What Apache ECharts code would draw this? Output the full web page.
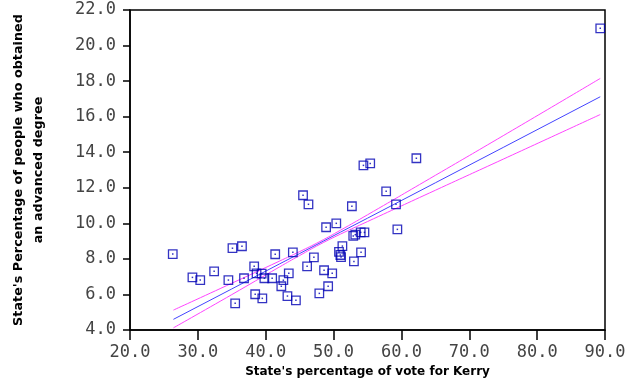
<!DOCTYPE html>
<html>
<head>
<meta charset="utf-8">
<script src="https://cdn.jsdelivr.net/npm/echarts@6/dist/echarts.min.js"></script>
<style>html,body{margin:0;padding:0;background:#fff}#c{width:640px;height:384px}</style>
</head>
<body>
<div id="c"></div>
<script>
// State's percentage of vote for Kerry (x) vs percentage with advanced degree (y)
var kerryVote = [26.3,29.2,30.35,32.4,34.5,35.1,35.5,36.5,36.8,38.3,38.45,38.65,39.4,39.5,39.8,40.95,41.4,42.3,42.6,43.2,43.4,44.0,44.45,45.5,46.3,46.1,47.1,47.9,48.6,48.9,49.2,49.8,50.4,50.8,51.0,51.1,51.3,52.7,52.9,53.2,53.0,54.05,54.0,54.55,54.4,55.4,57.75,59.2,59.4,62.2,89.3];
var advDegree = [8.27,6.96,6.81,7.30,6.81,8.60,5.50,8.71,6.91,7.58,6.01,7.19,7.17,5.78,6.91,6.91,8.26,6.46,6.80,5.91,7.19,8.37,5.67,11.58,11.07,7.58,8.09,6.06,7.36,9.78,6.46,7.19,10.0,8.39,8.22,8.10,8.72,10.96,9.29,9.36,7.86,8.37,9.49,9.49,13.26,13.37,11.80,11.07,9.66,13.66,20.97];

// fitted line and confidence band
var fitX   = [26.4, 35, 42, 45, 48, 51, 55, 65, 75, 89.3];
var fitY   = [4.60, 6.31, 7.71, 8.30, 8.90, 9.50, 10.29, 12.28, 14.27, 17.12];
var upperY = [5.12, 6.63, 7.87, 8.41, 8.98, 9.61, 10.48, 12.70, 14.93, 18.15];
var lowerY = [4.12, 5.99, 7.54, 8.19, 8.82, 9.39, 10.10, 11.86, 13.61, 16.12];

var xTicks = [20, 30, 40, 50, 60, 70, 80, 90];
var yTicks = [4, 6, 8, 10, 12, 14, 16, 18, 20, 22];

function zip(a, b) { return a.map(function (v, i) { return [v, b[i]]; }); }
var pts = zip(kerryVote, advDegree);

var tickFont = { fontFamily: 'DejaVu Sans Mono', fontSize: 17, color: '#444' };
var titleFont = { fontFamily: 'DejaVu Sans', fontWeight: 'bold', color: '#000' };

var chart = echarts.init(document.getElementById('c'), null, { renderer: 'canvas' });
chart.setOption({
  animation: false,
  backgroundColor: '#fff',
  grid: { left: 130, right: 35, top: 10, bottom: 54, containLabel: false, outerBoundsMode: 'none',
          show: true, borderColor: '#000', borderWidth: 1.5, backgroundColor: 'transparent' },
  xAxis: {
    type: 'value', min: xTicks[0], max: xTicks[xTicks.length - 1], interval: 10,
    name: "State's percentage of vote for Kerry", nameLocation: 'middle', nameGap: 34,
    nameTextStyle: Object.assign({ fontSize: 12 }, titleFont),
    axisLine: { lineStyle: { color: '#000', width: 1.5 } },
    axisTick: { show: true, length: 10, lineStyle: { color: '#000', width: 1.5 } },
    axisLabel: Object.assign({ margin: 14, formatter: function (v) { return v.toFixed(1); } }, tickFont),
    splitLine: { show: false }
  },
  yAxis: {
    type: 'value', min: yTicks[0], max: yTicks[yTicks.length - 1], interval: 2,
    name: "State's Percentage of people who obtained\nan advanced degree", nameLocation: 'middle', nameGap: 81, nameRotate: 90,
    nameTextStyle: Object.assign({ fontSize: 12.8, lineHeight: 20, align: 'center' }, titleFont),
    axisLine: { lineStyle: { color: '#000', width: 1.5 } },
    axisTick: { show: true, length: 7, lineStyle: { color: '#000', width: 1.5 } },
    axisLabel: Object.assign({ margin: 14, formatter: function (v) { return v.toFixed(1); } }, tickFont),
    splitLine: { show: false }
  },
  series: [
    { type: 'line', data: zip(fitX, upperY), showSymbol: false, smooth: true, lineStyle: { color: '#ff44ff', width: 1 }, z: 2 },
    { type: 'line', data: zip(fitX, lowerY), showSymbol: false, smooth: true, lineStyle: { color: '#ff44ff', width: 1 }, z: 2 },
    { type: 'line', data: zip(fitX, fitY), showSymbol: false, lineStyle: { color: '#4444ff', width: 1 }, z: 3 },
    { type: 'scatter', data: pts, symbol: 'rect', symbolSize: 8.5,
      itemStyle: { color: 'rgba(0,0,0,0)', borderColor: '#0000b4', borderWidth: 1.3 }, z: 4 },
    { type: 'scatter', data: pts, symbol: 'rect', symbolSize: 1.5,
      itemStyle: { color: '#0000b4' }, z: 5 }
  ]
});
</script>
</body>
</html>
